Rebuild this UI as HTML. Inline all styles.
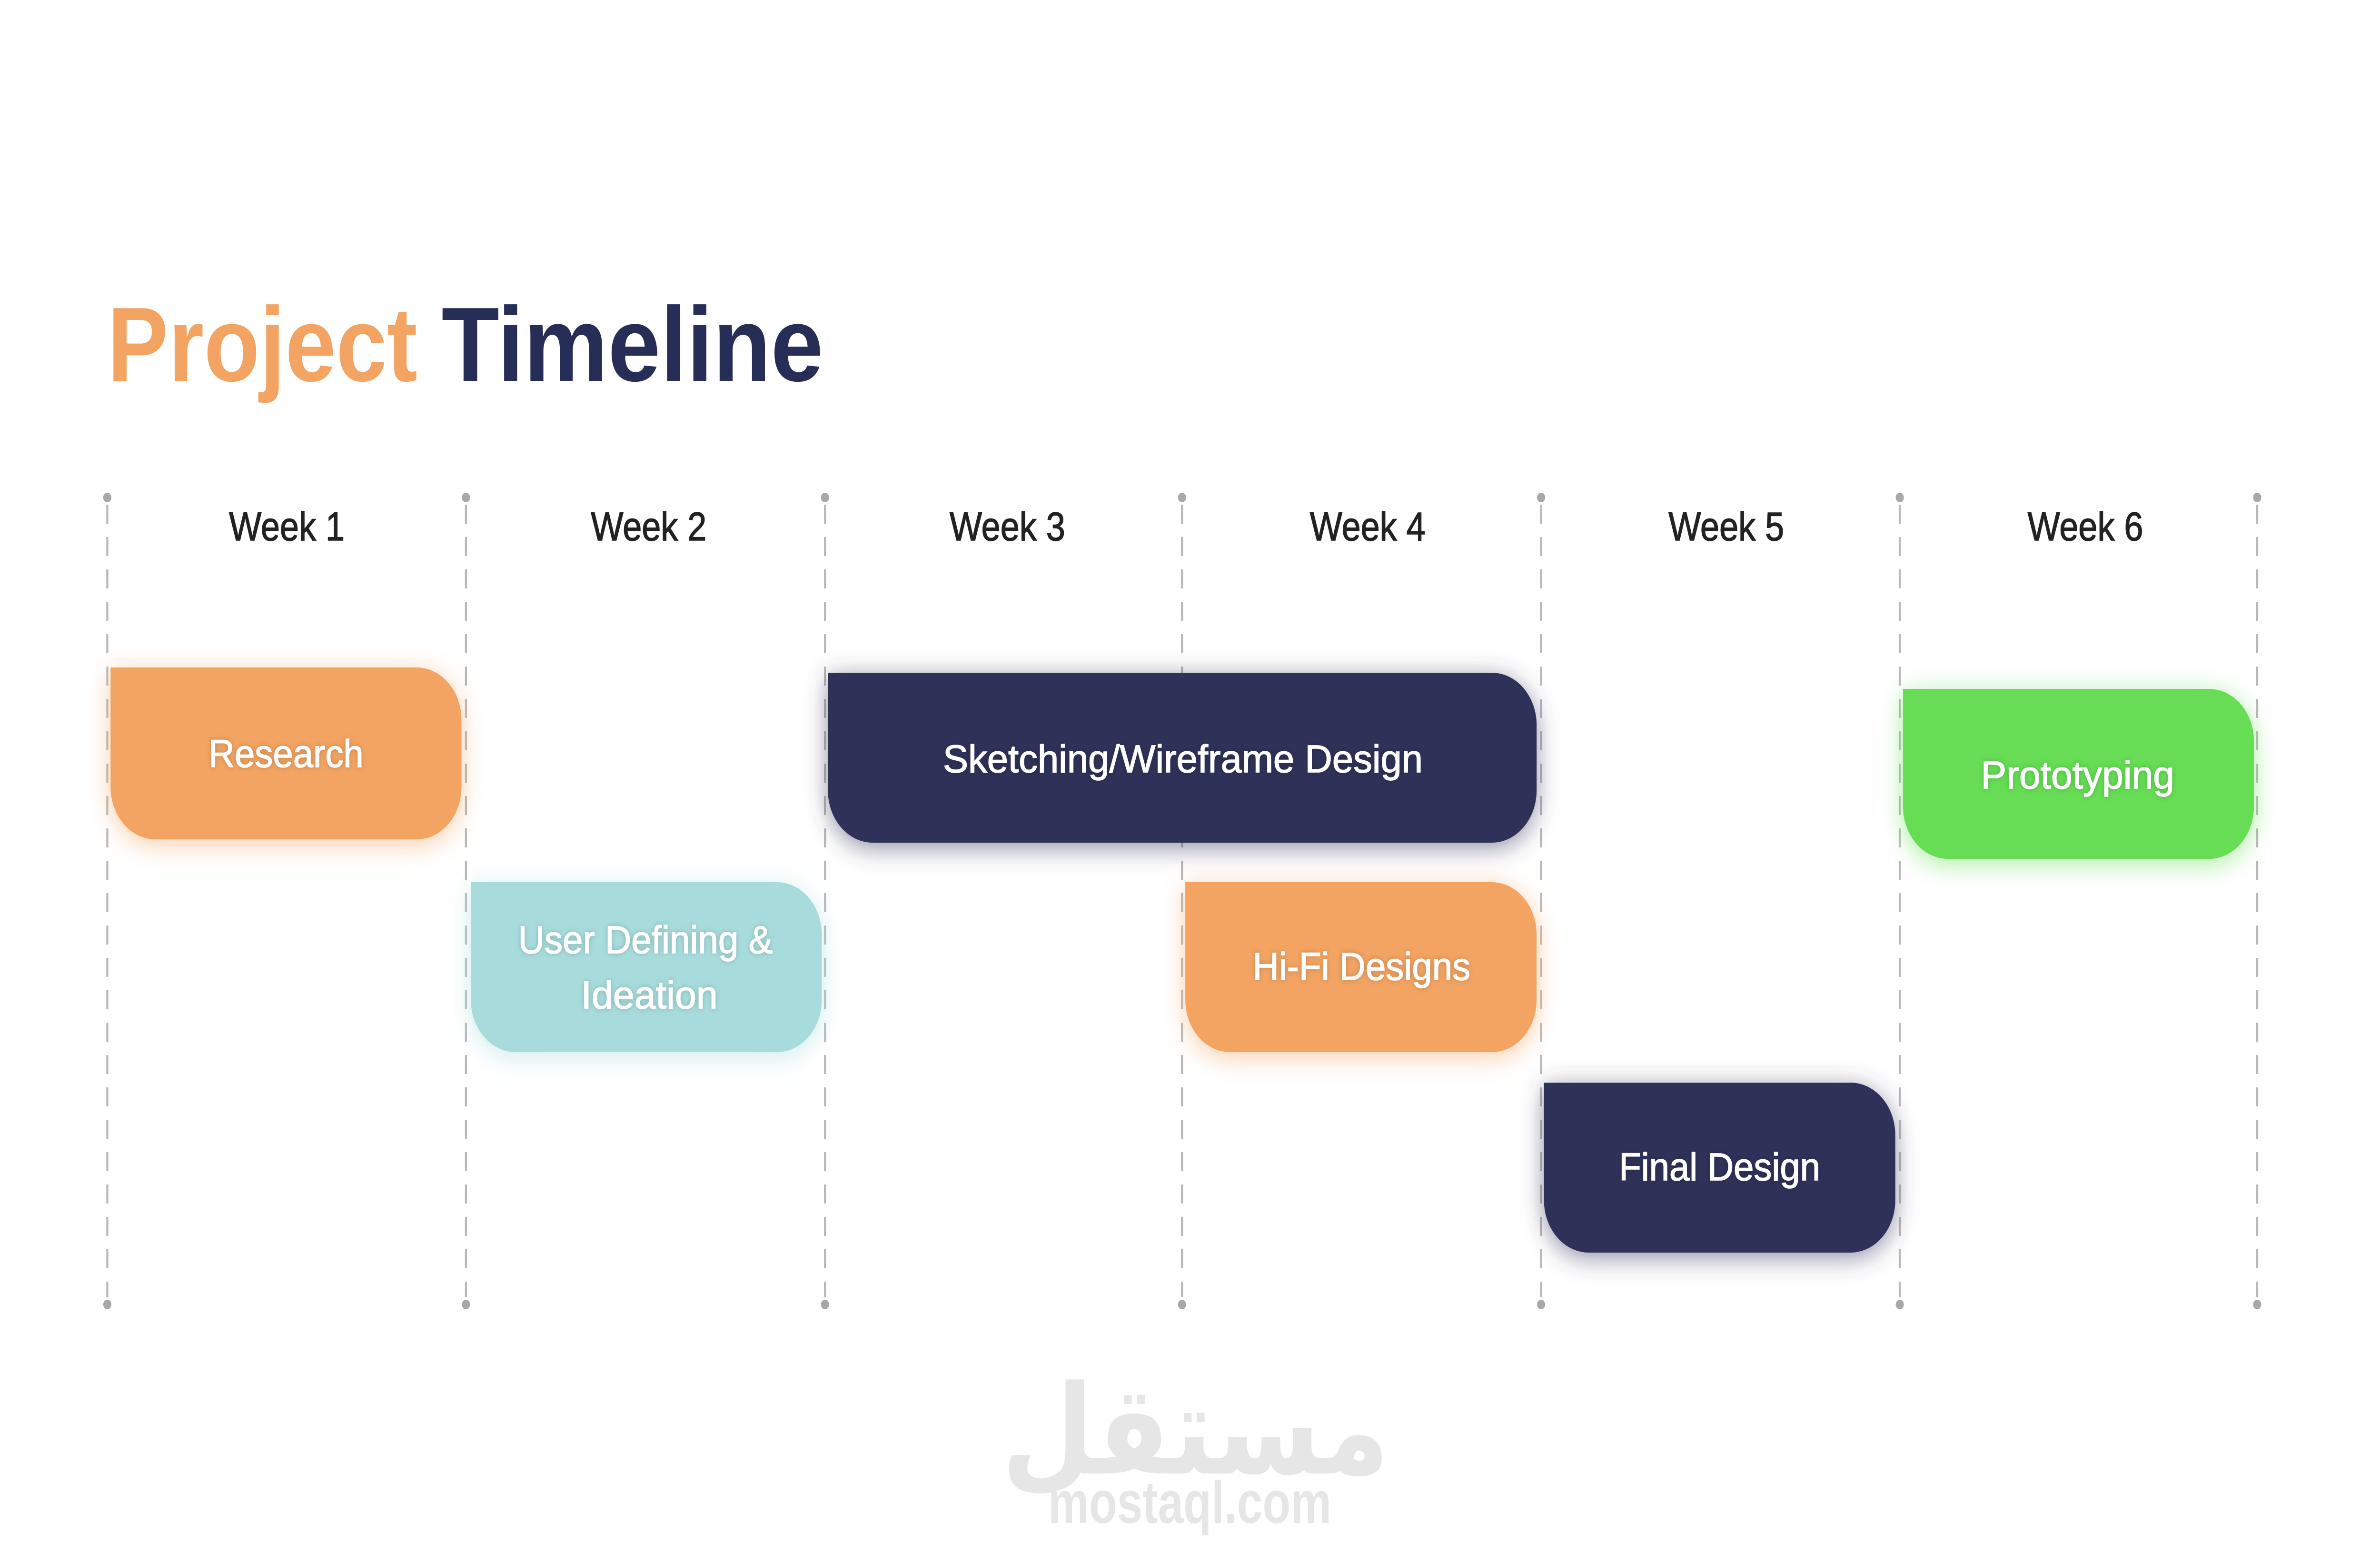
<!DOCTYPE html>
<html><head><meta charset="utf-8"><meta name="viewport" content="width=5833"><style>
html,body{margin:0;padding:0;background:#fff;width:100%;height:100%;overflow:hidden}
svg{display:block;position:fixed;left:0;top:0;width:100vw;height:100vh}
text{font-family:"Liberation Sans",sans-serif}
</style></head><body>
<svg viewBox="0 0 5833 3283" preserveAspectRatio="none" xmlns="http://www.w3.org/2000/svg">
<defs>
<filter id="glow" x="-20%" y="-40%" width="140%" height="180%">
<feGaussianBlur in="SourceGraphic" stdDeviation="28" result="b"/>
<feComponentTransfer in="b" result="c"><feFuncA type="linear" slope="0.55"/></feComponentTransfer>
<feOffset in="c" dx="0" dy="10" result="o"/>
<feMerge><feMergeNode in="o"/><feMergeNode in="SourceGraphic"/></feMerge>
</filter>
<filter id="ts"><feDropShadow dx="0" dy="0" stdDeviation="6" flood-color="#000" flood-opacity="0.2"/></filter>
</defs>
<rect width="5833" height="3283" fill="#fff"/>

<text x="263" y="800" font-size="222" font-weight="bold" fill="#f3a462" textLength="760" lengthAdjust="spacingAndGlyphs">Project</text>
<text x="1082" y="800" font-size="222" font-weight="bold" fill="#262d57" textLength="936" lengthAdjust="spacingAndGlyphs">Timeline</text>

<g stroke="#b8b8b8" stroke-width="5" stroke-dasharray="40 28">
<line x1="263" y1="1060" x2="263" y2="2725"/>
<line x1="1142" y1="1060" x2="1142" y2="2725"/>
<line x1="2022" y1="1060" x2="2022" y2="2725"/>
<line x1="2897" y1="1060" x2="2897" y2="2725"/>
<line x1="3777" y1="1060" x2="3777" y2="2725"/>
<line x1="4656" y1="1060" x2="4656" y2="2725"/>
<line x1="5532" y1="1060" x2="5532" y2="2725"/>
</g>
<g fill="#a8a8a8">
<circle cx="263" cy="1045" r="10"/><circle cx="1142" cy="1045" r="10"/><circle cx="2022" cy="1045" r="10"/><circle cx="2897" cy="1045" r="10"/><circle cx="3777" cy="1045" r="10"/><circle cx="4656" cy="1045" r="10"/><circle cx="5532" cy="1045" r="10"/>
<circle cx="263" cy="2740" r="10"/><circle cx="1142" cy="2740" r="10"/><circle cx="2022" cy="2740" r="10"/><circle cx="2897" cy="2740" r="10"/><circle cx="3777" cy="2740" r="10"/><circle cx="4656" cy="2740" r="10"/><circle cx="5532" cy="2740" r="10"/>
</g>

<g font-size="84" fill="#222" text-anchor="middle" stroke="#222" stroke-width="1.5">
<text x="703" y="1135">Week 1</text>
<text x="1590" y="1135">Week 2</text>
<text x="2469" y="1135">Week 3</text>
<text x="3352" y="1135">Week 4</text>
<text x="4231" y="1135">Week 5</text>
<text x="5111" y="1135">Week 6</text>
</g>

<g filter="url(#glow)">
<path fill="#f3a462" d="M271 1402 H1021 A110 110 0 0 1 1131 1512 V1653 A110 110 0 0 1 1021 1763 H381 A110 110 0 0 1 271 1653 Z"/>
<path fill="#a8dcdc" d="M1154 1853 H1904 A110 110 0 0 1 2014 1963 V2100 A110 110 0 0 1 1904 2210 H1264 A110 110 0 0 1 1154 2100 Z"/>
<path fill="#2e3259" d="M2029 1413 H3656 A110 110 0 0 1 3766 1523 V1660 A110 110 0 0 1 3656 1770 H2139 A110 110 0 0 1 2029 1660 Z"/>
<path fill="#f3a462" d="M2905 1853 H3656 A110 110 0 0 1 3766 1963 V2100 A110 110 0 0 1 3656 2210 H3015 A110 110 0 0 1 2905 2100 Z"/>
<path fill="#2e3259" d="M3784 2274 H4535 A110 110 0 0 1 4645 2384 V2521 A110 110 0 0 1 4535 2631 H3894 A110 110 0 0 1 3784 2521 Z"/>
<path fill="#66dd55" d="M4664 1447 H5414 A110 110 0 0 1 5524 1557 V1694 A110 110 0 0 1 5414 1804 H4774 A110 110 0 0 1 4664 1694 Z"/>
</g>

<g font-size="82" fill="#fff" stroke="#fff" stroke-width="1.5" filter="url(#ts)">
<text x="511" y="1611" textLength="380" lengthAdjust="spacingAndGlyphs">Research</text>
<text x="1270" y="2002" textLength="624" lengthAdjust="spacingAndGlyphs">User Defining &amp;</text>
<text x="1424" y="2118" textLength="335" lengthAdjust="spacingAndGlyphs">Ideation</text>
<text x="2311" y="1622" textLength="1176" lengthAdjust="spacingAndGlyphs">Sketching/Wireframe Design</text>
<text x="3070" y="2058" textLength="534" lengthAdjust="spacingAndGlyphs">Hi-Fi Designs</text>
<text x="3968" y="2479" textLength="493" lengthAdjust="spacingAndGlyphs">Final Design</text>
<text x="4855" y="1656" textLength="474" lengthAdjust="spacingAndGlyphs">Prototyping</text>
</g>

<text x="2930" y="3095" font-size="260" font-weight="bold" fill="#e6e6e6" text-anchor="middle" style='font-family:"DejaVu Sans",sans-serif'>مستقل</text>
<text x="2569" y="3199" font-size="125" font-weight="bold" fill="#e6e6e6" textLength="694" lengthAdjust="spacingAndGlyphs">mostaql.com</text>
</svg>
</body></html>
